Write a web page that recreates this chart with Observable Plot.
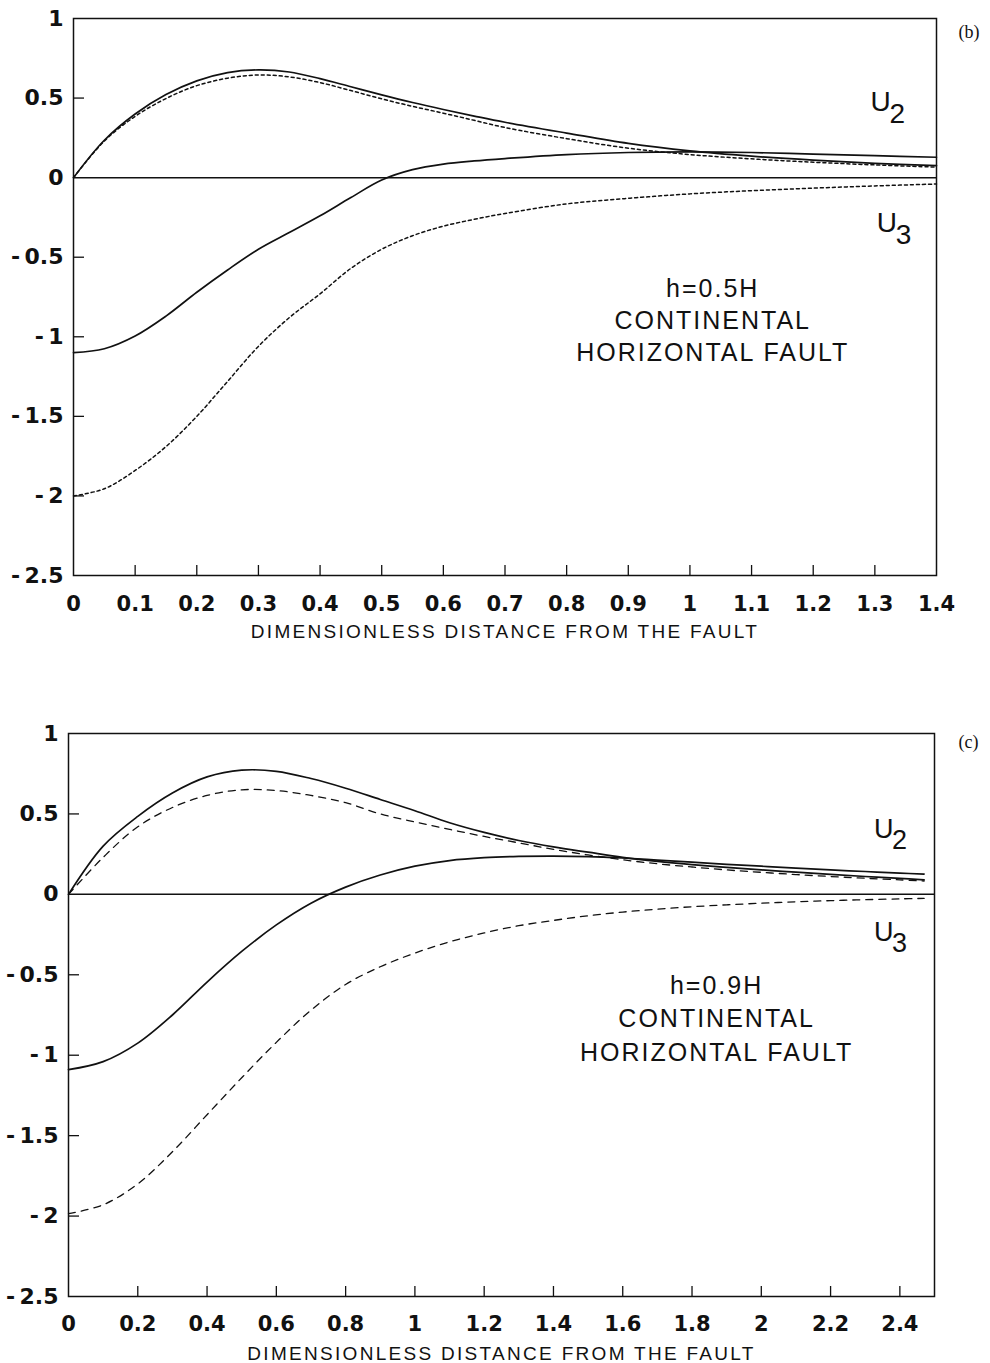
<!DOCTYPE html>
<html>
<head>
<meta charset="utf-8">
<script src="https://cdn.jsdelivr.net/npm/d3@7"></script>
<script src="https://cdn.jsdelivr.net/npm/@observablehq/plot@0.6"></script>
<style>
  html, body { margin: 0; padding: 0; background: #fff; }
  #wrap { position: relative; width: 990px; height: 1363px; background: #fff; }
  #wrap svg { position: absolute; left: 0; }
</style>
</head>
<body>
<div id="wrap"></div>
<script>
// ---------- Panel (b): h = 0.5H ----------
const xB = [0,0.05,0.1,0.15,0.2,0.25,0.3,0.35,0.4,0.45,0.5,0.55,0.6,0.65,0.7,0.8,0.9,1.0,1.1,1.2,1.3,1.4];
const u2SolidB = [0,0.235,0.4,0.522,0.608,0.66,0.677,0.664,0.622,0.571,0.52,0.472,0.428,0.387,0.348,0.28,0.215,0.168,0.135,0.11,0.09,0.075];
const u2DashB  = [0,0.23,0.385,0.497,0.578,0.625,0.645,0.633,0.597,0.547,0.495,0.448,0.405,0.36,0.315,0.245,0.185,0.145,0.118,0.097,0.08,0.066];
const u3SolidB = [-1.10,-1.075,-0.995,-0.87,-0.72,-0.58,-0.45,-0.345,-0.24,-0.125,-0.015,0.05,0.085,0.105,0.12,0.145,0.158,0.162,0.158,0.148,0.138,0.128];
const u3DashB  = [-2.0,-1.955,-1.84,-1.69,-1.5,-1.28,-1.06,-0.88,-0.73,-0.57,-0.45,-0.365,-0.305,-0.262,-0.225,-0.165,-0.13,-0.102,-0.082,-0.066,-0.052,-0.04];
const xTicksB = [0,0.1,0.2,0.3,0.4,0.5,0.6,0.7,0.8,0.9,1,1.1,1.2,1.3,1.4];

// ---------- Panel (c): h = 0.9H ----------
const xC = [0,0.1,0.2,0.3,0.4,0.5,0.6,0.7,0.8,0.9,1.0,1.1,1.2,1.3,1.4,1.5,1.6,1.7,1.8,1.9,2.0,2.1,2.2,2.3,2.4,2.47];
const u2SolidC = [0,0.3,0.485,0.63,0.73,0.772,0.765,0.72,0.66,0.59,0.52,0.445,0.385,0.335,0.295,0.262,0.23,0.205,0.185,0.168,0.152,0.138,0.124,0.111,0.099,0.09];
const u2DashC  = [0,0.23,0.42,0.54,0.615,0.65,0.645,0.615,0.57,0.5,0.45,0.404,0.36,0.32,0.28,0.245,0.215,0.19,0.17,0.152,0.137,0.123,0.111,0.1,0.09,0.083];
const u3SolidC = [-1.09,-1.04,-0.925,-0.75,-0.545,-0.355,-0.19,-0.055,0.045,0.12,0.175,0.21,0.228,0.236,0.238,0.235,0.226,0.213,0.2,0.187,0.175,0.163,0.152,0.142,0.132,0.126];
const u3DashC  = [-1.985,-1.93,-1.8,-1.6,-1.37,-1.14,-0.92,-0.72,-0.56,-0.45,-0.365,-0.295,-0.24,-0.195,-0.162,-0.133,-0.11,-0.092,-0.077,-0.065,-0.055,-0.046,-0.039,-0.033,-0.028,-0.025];
const xTicksC = [0,0.2,0.4,0.6,0.8,1,1.2,1.4,1.6,1.8,2,2.2,2.4];

const yTicks = [1,0.5,0,-0.5,-1,-1.5,-2,-2.5];
const xLabel = "DIMENSIONLESS DISTANCE FROM THE FAULT";

const ink = "#111";
const tickFont = "DejaVu Sans, Liberation Sans, sans-serif";
const textFont = "Liberation Sans, Arial, Helvetica, sans-serif";
const fmtY = d => d < 0 ? "-\u2009" + Math.abs(d) : String(d);

function series(xs, ys) { return xs.map((x, i) => ({x, y: ys[i]})); }

function panel(cfg) {
  const frameW = cfg.width - cfg.ml - cfg.mr;
  const frameH = cfg.height - cfg.mt - cfg.mb;
  const innerX = cfg.xTicks.filter(d => d > 0 && d < cfg.xDomain[1]);
  const innerY = yTicks.filter(d => d !== 0 && d > -2.5 && d < 1);
  const solid = {x: "x", y: "y", stroke: ink, strokeWidth: 1.7, curve: "catmull-rom"};
  const dashed = {x: "x", y: "y", stroke: ink, strokeWidth: cfg.dashWidth, strokeDasharray: cfg.dash, curve: "catmull-rom"};
  const svg = Plot.plot({
    width: cfg.width, height: cfg.height,
    marginLeft: cfg.ml, marginRight: cfg.mr, marginTop: cfg.mt, marginBottom: cfg.mb,
    style: {background: "#fff", color: ink, fontFamily: textFont, overflow: "visible"},
    x: {domain: cfg.xDomain, nice: false},
    y: {domain: [-2.5, 1], nice: false},
    marks: [
      Plot.frame({stroke: ink, strokeWidth: 1.5}),
      Plot.ruleY([0], {stroke: ink, strokeWidth: 1.5}),
      Plot.tickX(innerX, {x: d => d, stroke: ink, strokeWidth: 1.3, insetTop: frameH - 10}),
      Plot.tickY(innerY, {y: d => d, stroke: ink, strokeWidth: 1.3, insetRight: frameW - 11}),
      Plot.axisX(cfg.xTicks, {tickSize: 0, tickPadding: cfg.xPad, fontSize: 21, fontWeight: "bold", fontFamily: tickFont, fill: ink, label: null, tickFormat: d => String(d)}),
      Plot.axisY(yTicks, {tickSize: 0, tickPadding: 10, fontSize: 22, fontWeight: "bold", fontFamily: tickFont, fill: ink, label: null, tickFormat: fmtY}),
      Plot.line(series(cfg.xs, cfg.u2s), solid),
      Plot.line(series(cfg.xs, cfg.u3s), solid),
      Plot.line(series(cfg.xs, cfg.u2d), dashed),
      Plot.line(series(cfg.xs, cfg.u3d), dashed),
      // curve labels U2 / U3 with subscripts
      Plot.text(["U"], {x: cfg.u2Pos[0], y: cfg.u2Pos[1], text: d => d, textAnchor: "start", lineAnchor: "middle", fontSize: cfg.uSize, fill: ink}),
      Plot.text(["2"], {x: cfg.u2Pos[0], y: cfg.u2Pos[1], text: d => d, textAnchor: "start", lineAnchor: "middle", dx: cfg.subDx, dy: cfg.subDy, fontSize: cfg.uSize, fill: ink}),
      Plot.text(["U"], {x: cfg.u3Pos[0], y: cfg.u3Pos[1], text: d => d, textAnchor: "start", lineAnchor: "middle", fontSize: cfg.uSize, fill: ink}),
      Plot.text(["3"], {x: cfg.u3Pos[0], y: cfg.u3Pos[1], text: d => d, textAnchor: "start", lineAnchor: "middle", dx: cfg.subDx, dy: cfg.subDy, fontSize: cfg.uSize, fill: ink}),
      // annotation block
      Plot.text([cfg.note], {x: cfg.notePos[0], y: cfg.notePos[1], text: d => d, textAnchor: "middle", lineAnchor: "middle", lineHeight: cfg.noteLH, fontSize: 25, fill: ink}),
      // axis title
      Plot.text([xLabel], {frameAnchor: "bottom", dy: cfg.labelDy, text: d => d, textAnchor: "middle", lineAnchor: "middle", fontSize: 19, fill: ink}),
      // panel tag
      Plot.text([cfg.tag], {frameAnchor: "top-right", dx: cfg.tagDx, dy: cfg.tagDy, text: d => d, textAnchor: "start", lineAnchor: "middle", fontSize: 18, fontFamily: "Liberation Serif, Times New Roman, serif", fill: ink})
    ]
  });
  d3.select(svg).selectAll("text").each(function() {
    const t = this.textContent;
    if (t === xLabel) this.style.letterSpacing = "2.3px";
    else if (/CONTINENTAL|HORIZONTAL|h=0/.test(t)) this.style.letterSpacing = "2px";
  });
  svg.style.top = cfg.top + "px";
  return svg;
}

const wrap = document.getElementById("wrap");

wrap.appendChild(panel({
  top: 0, width: 990, height: 660, ml: 73, mr: 54, mt: 18, mb: 85,
  xDomain: [0, 1.4], xTicks: xTicksB, xPad: 21,
  xs: xB, u2s: u2SolidB, u2d: u2DashB, u3s: u3SolidB, u3d: u3DashB,
  dash: "3,3", dashWidth: 1.5,
  u2Pos: [1.293, 0.478], u3Pos: [1.303, -0.286], uSize: 28, subDx: 19, subDy: 12,
  note: "h=0.5H\nCONTINENTAL\nHORIZONTAL FAULT", notePos: [1.037, -0.887], noteLH: 1.28,
  labelDy: 56, tag: "(b)", tagDx: 22, tagDy: 14
}));

wrap.appendChild(panel({
  top: 660, width: 990, height: 703, ml: 68, mr: 56, mt: 73, mb: 67,
  xDomain: [0, 2.5], xTicks: xTicksC, xPad: 20,
  xs: xC, u2s: u2SolidC, u2d: u2DashC, u3s: u3SolidC, u3d: u3DashC,
  dash: "7,6", dashWidth: 1.3,
  u2Pos: [2.325, 0.407], u3Pos: [2.325, -0.235], uSize: 27, subDx: 18, subDy: 11,
  note: "h=0.9H\nCONTINENTAL\nHORIZONTAL FAULT", notePos: [1.871, -0.758], noteLH: 1.34,
  labelDy: 57, tag: "(c)", tagDx: 24, tagDy: 9
}));
</script>
</body>
</html>
